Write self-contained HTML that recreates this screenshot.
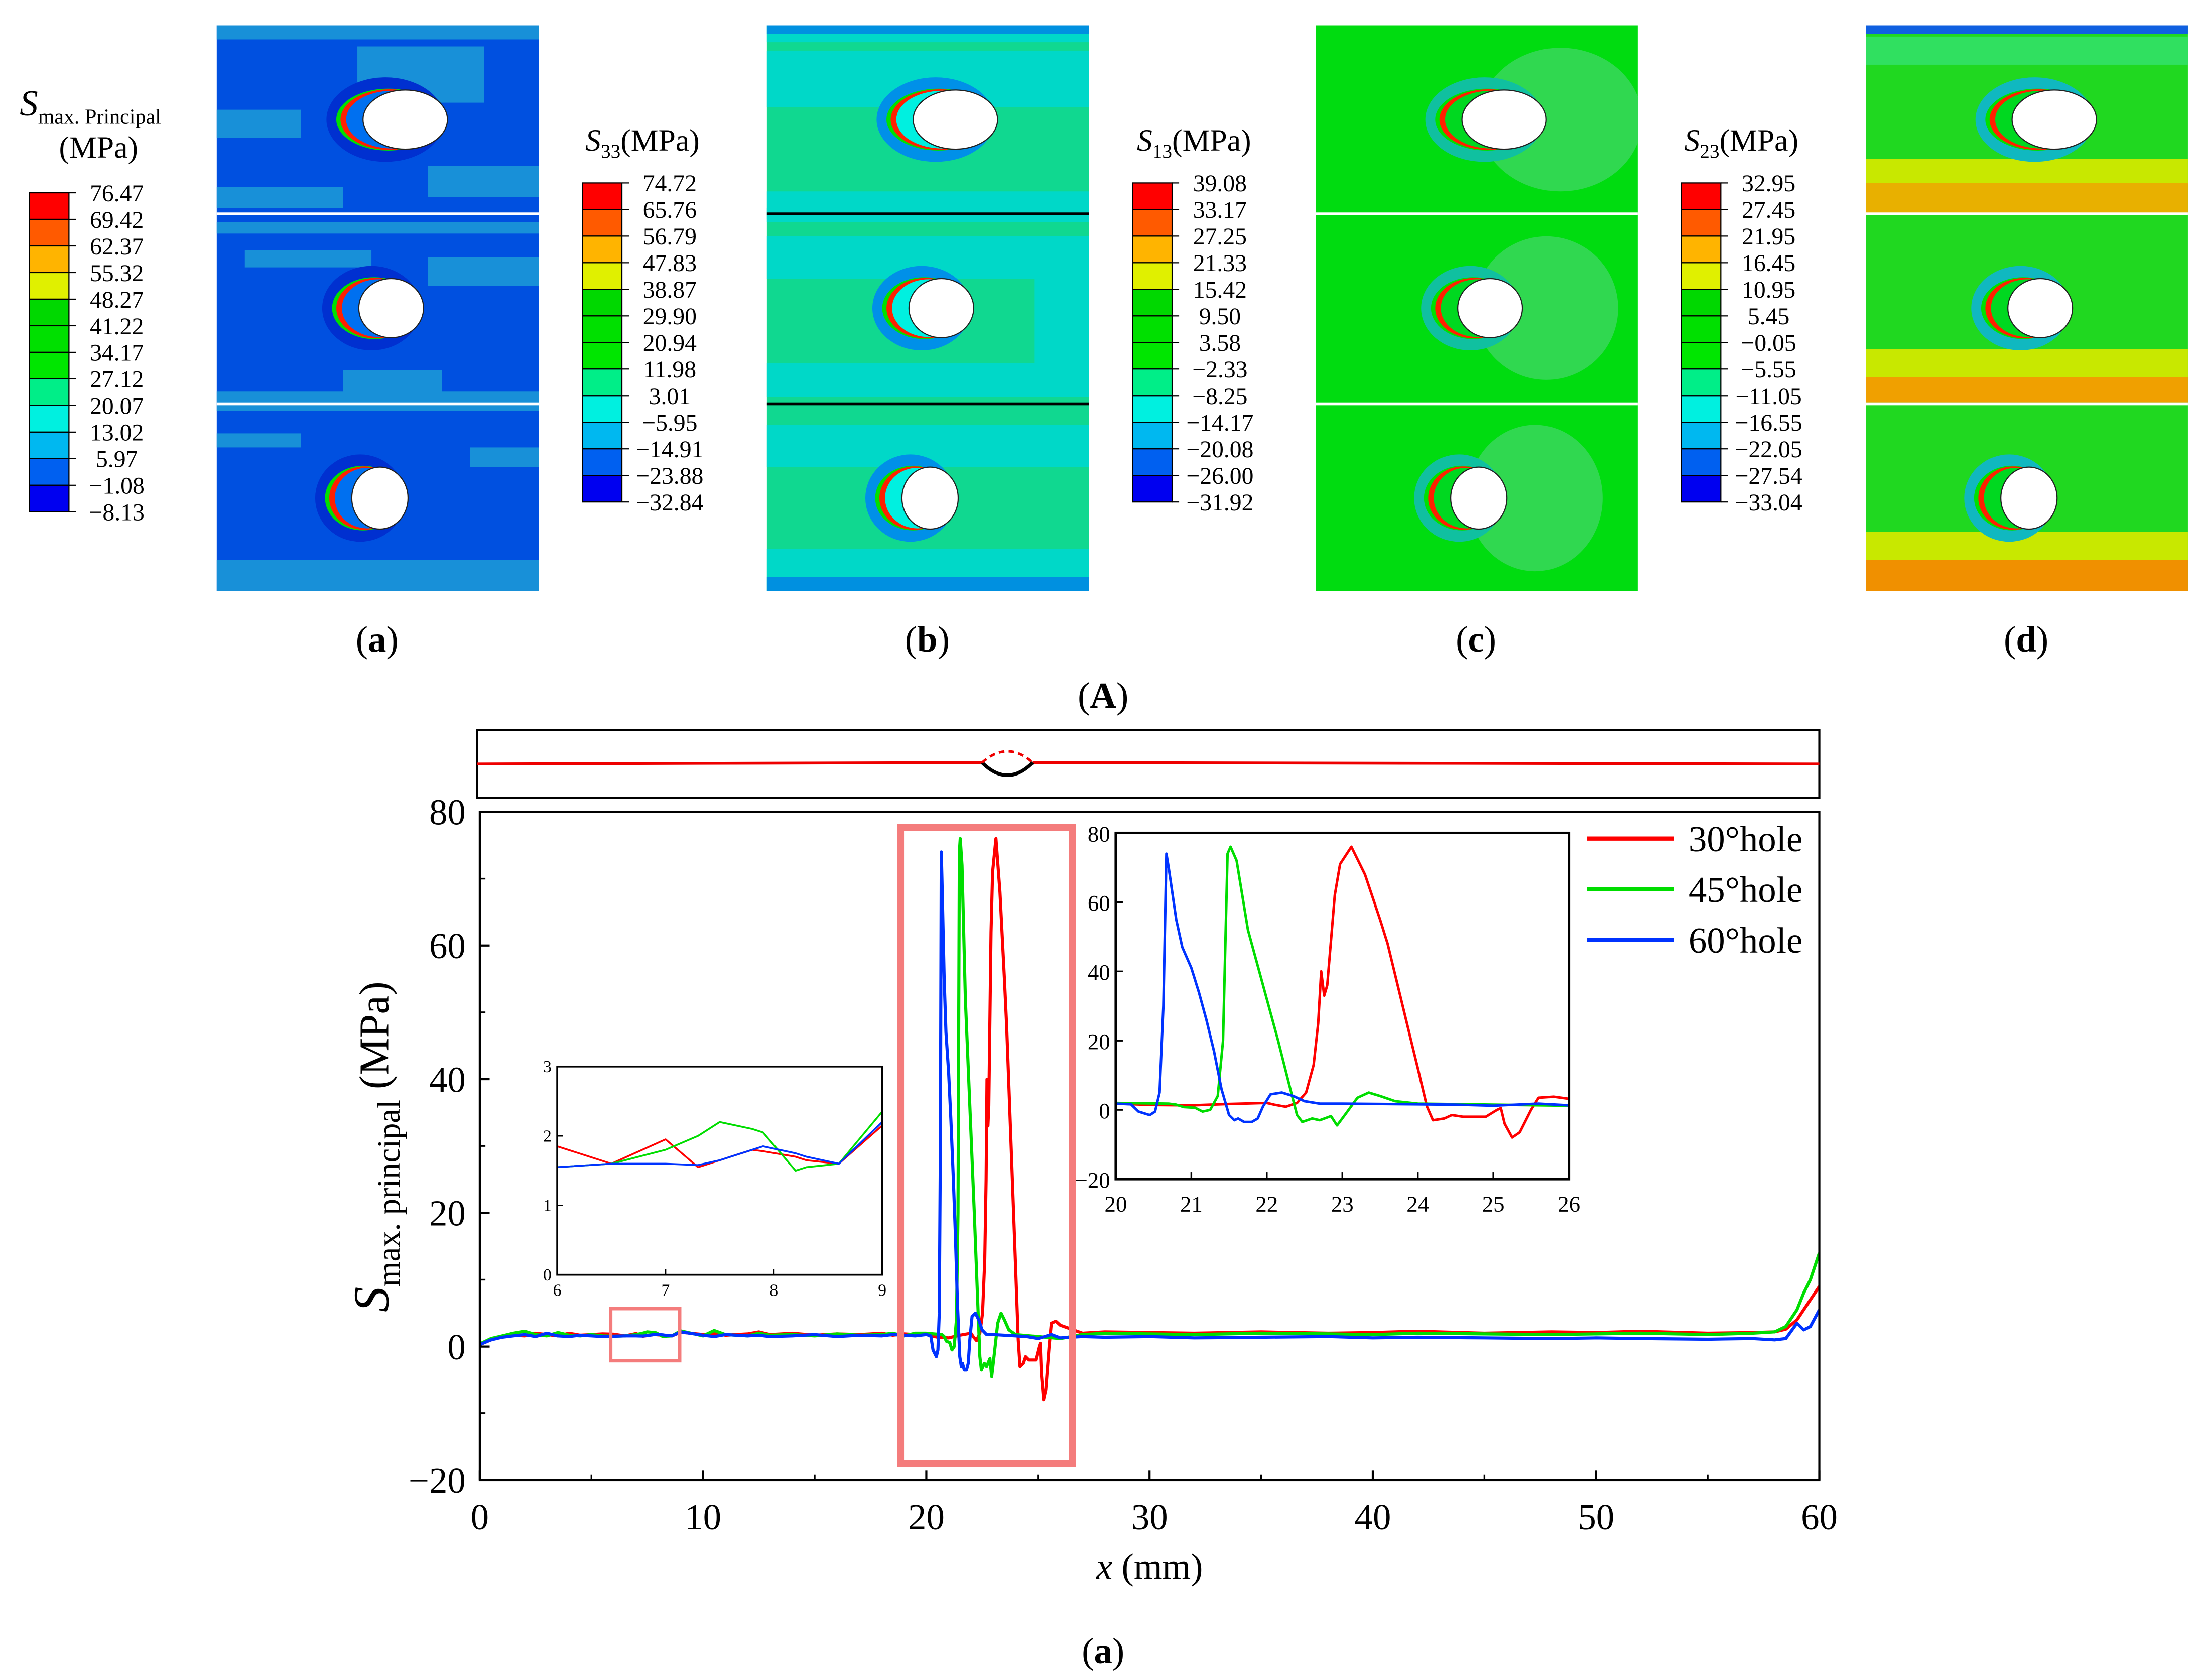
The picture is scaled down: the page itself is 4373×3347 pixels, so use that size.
<!DOCTYPE html>
<html><head><meta charset="utf-8"><style>
html,body{margin:0;padding:0;background:#fff;}
svg{display:block;font-family:"Liberation Serif","DejaVu Serif",serif;}
text{font-family:"Liberation Serif","DejaVu Serif",serif;}
</style></head><body>
<svg id="fig" width="4373" height="3347" viewBox="0 0 1560 1194" xmlns="http://www.w3.org/2000/svg" font-family="'Liberation Serif', 'DejaVu Serif', serif">
<defs>
<clipPath id="cA"><rect x="0" y="0" width="229" height="402"/></clipPath>
<clipPath id="cM"><rect x="341" y="577" width="952" height="475"/></clipPath>
</defs>
<g id="topG"></g>
<text x="784" y="503" font-size="26" text-anchor="middle">(<tspan font-weight="bold">A</tspan>)</text>
<g id="chart"></g>
</svg>
<script>
const NS="http://www.w3.org/2000/svg";
function mk(tag,attrs,parent){const e=document.createElementNS(NS,tag);for(const k in attrs)e.setAttribute(k,attrs[k]);parent.appendChild(e);return e;}
function tx(parent,x,y,s,size,anchor,extra){const t=mk('text',Object.assign({x:x,y:y,'font-size':size,'text-anchor':anchor||'start'},extra||{}),parent);t.textContent=s;return t;}

const legendA=["76.47","69.42","62.37","55.32","48.27","41.22","34.17","27.12","20.07","13.02","5.97","\u22121.08","\u22128.13"];
const legendB=["74.72","65.76","56.79","47.83","38.87","29.90","20.94","11.98","3.01","\u22125.95","\u221214.91","\u221223.88","\u221232.84"];
const legendC=["39.08","33.17","27.25","21.33","15.42","9.50","3.58","\u22122.33","\u22128.25","\u221214.17","\u221220.08","\u221226.00","\u221231.92"];
const legendD=["32.95","27.45","21.95","16.45","10.95","5.45","\u22120.05","\u22125.55","\u221211.05","\u221216.55","\u221222.05","\u221227.54","\u221233.04"];
const bandColors=["#ff0000","#ff5a00","#ffb400","#e0f000","#00d800","#00e000","#00e600","#00ee88","#00f0e0","#00b8f0","#0060f0","#0000f0"];
const topG=document.getElementById('topG');
const panels=[
 {px:154,cbx:21,cby:137,leg:legendA,lab:"a",bg:"#0050e0",patch:"#1890d8",line:"#ffffff",halo:"#0030d0",inner:"#0070f0"},
 {px:545,cbx:414,cby:130,leg:legendB,lab:"b",bg:"#10d890",patch:"#00d8c8",line:"#000000",halo:"#0090e8",inner:"#00f0e0"},
 {px:935,cbx:805,cby:130,leg:legendC,lab:"c",bg:"#00dc10",patch:"#30d850",line:"#ffffff",halo:"#10c0a0",inner:"#00d820"},
 {px:1326,cbx:1195,cby:130,leg:legendD,lab:"d",bg:"#20d820",patch:"#c8e800",line:"#ffffff",halo:"#10b8c0",inner:"#00d820"}
];
const holes=[[134,67,30,21],[124,201,23,21],[116,336,20,22]];
panels.forEach((p,i)=>{
  const g=mk('g',{transform:`translate(${p.px},18)`},topG);
  
  
  const inner=mk('g',{'clip-path':'url(#cA)'},g);
  mk('rect',{x:0,y:0,width:229,height:402,fill:p.bg},inner);
  if(i===0){
    [[0,0,229,10],[100,15,90,40],[0,60,60,20],[150,100,79,22],[0,115,90,15],[0,140,229,8],[20,160,90,12],[150,165,79,20],[90,245,70,20],[0,260,229,14],[0,290,60,10],[180,300,49,14],[0,380,229,22]].forEach(r=>mk('rect',{x:r[0],y:r[1],width:r[2],height:r[3],fill:p.patch},inner));
  } else if(i===1){
    [[0,0,229,12],[0,18,229,40],[0,118,229,20],[0,130,229,10],[0,150,229,30],[0,240,229,24],[0,284,229,30],[0,372,229,30],[190,180,39,60]].forEach(r=>mk('rect',{x:r[0],y:r[1],width:r[2],height:r[3],fill:p.patch},inner));
    mk('rect',{x:0,y:0,width:229,height:6,fill:"#0090e0"},inner);
    mk('rect',{x:0,y:392,width:229,height:10,fill:"#0090e0"},inner);
  } else if(i===2){
    holes.forEach(h=>mk('ellipse',{cx:h[0]+40,cy:h[1],rx:h[2]+28,ry:h[3]+30,fill:p.patch},inner));
  } else {
    mk('rect',{x:0,y:0,width:229,height:6,fill:"#1060e0"},inner);
    [[0,95,229,18,"#c8e800"],[0,112,229,22,"#e8b000"],[0,230,229,20,"#c8e800"],[0,250,229,18,"#f0a000"],[0,360,229,20,"#c8e800"],[0,380,229,22,"#f09000"],[0,8,229,20,"#30e060"]].forEach(r=>mk('rect',{x:r[0],y:r[1],width:r[2],height:r[3],fill:r[4]},inner));
  }
  holes.forEach(h=>{
    mk('ellipse',{cx:h[0]-14,cy:h[1],rx:h[2]+12,ry:h[3]+9,fill:p.halo},inner);
    mk('ellipse',{cx:h[0]-12,cy:h[1],rx:h[2]+7,ry:h[3]+1,fill:"#00e000"},inner);
    mk('ellipse',{cx:h[0]-11,cy:h[1],rx:h[2]+5,ry:h[3]+0.5,fill:"#ff2000"},inner);
    mk('ellipse',{cx:h[0]-9,cy:h[1],rx:h[2]+3,ry:h[3]-0.5,fill:p.inner},inner);
    mk('ellipse',{cx:h[0],cy:h[1],rx:h[2],ry:h[3],fill:"#ffffff",stroke:"#222",'stroke-width':0.8},inner);
  });
  mk('rect',{x:0,y:133,width:229,height:2,fill:p.line},inner);
  mk('rect',{x:0,y:268,width:229,height:2,fill:p.line},inner);
  const cb=mk('g',{},topG);
  
  
  const bh=18.9;
  bandColors.forEach((c,k)=>{mk('rect',{x:p.cbx,y:p.cby+k*bh,width:28,height:bh,fill:c,stroke:'#000','stroke-width':0.8},cb);});
  p.leg.forEach((s,k)=>{mk('line',{x1:p.cbx+28,y1:p.cby+k*bh,x2:p.cbx+33,y2:p.cby+k*bh,stroke:'#000','stroke-width':0.8},cb);tx(cb,p.cbx+62,p.cby+k*bh+6,s,17,'middle');});
  const lb=mk('text',{x:p.px+114,y:463,'font-size':26,'text-anchor':'middle'},topG);
  
  
  lb.appendChild(document.createTextNode('('));
  const b=mk('tspan',{'font-weight':'bold'},lb);b.textContent=p.lab;
  lb.appendChild(document.createTextNode(')'));
});
function richText(parent,x,y,size,anchor,parts,extra){
  const t=mk('text',Object.assign({x:x,y:y,'font-size':size,'text-anchor':anchor},extra||{}),parent);
  parts.forEach(p=>{const s=mk('tspan',p[1]||{},t);s.textContent=p[0];});
  return t;
}
(function(){
 const t1=richText(topG,14,82,24,'start',[["S",{'font-style':'italic','font-size':26}],["max. Principal",{'font-size':15,dy:6}]]);
 
 const t1b=tx(topG,70,112,'(MPa)',22,'middle');
 [[416,"33","title-b"],[808,"13","title-c"],[1197,"23","title-d"]].forEach(a=>{
  const t=richText(topG,a[0],107,22,'start',[["S",{'font-style':'italic'}],[a[1],{'font-size':14,dy:5}],["(MPa)",{dy:-5}]]);
  
 });
})();

const xTicks=[0,10,20,30,40,50,60];
const yTicks=[-20,0,20,40,60,80];
const inset1XTicks=[20,21,22,23,24,25,26];
const inset1YTicks=[-20,0,20,40,60,80];
const inset2XTicks=[6,7,8,9];
const inset2YTicks=[0,1,2,3];
const seriesNames=["30\u00b0hole","45\u00b0hole","60\u00b0hole"];
const preX=[0,0.5,1,1.5,2,2.5,3,3.5,4,4.5,5,5.5];
const redPreY=[0.3,1.0,1.5,1.7,1.6,2.0,1.8,1.6,2.0,1.7,1.8,1.9];
const greenPreY=[0.4,1.2,1.6,2.0,2.3,1.8,1.6,2.1,1.7,1.6,1.8,1.6];
const bluePreY=[0.3,1.0,1.4,1.6,1.8,1.5,2.0,1.6,1.5,1.7,1.6,1.5];
const zoomAX=[6,6.5,7,7.3,7.5,7.8,7.9,8.2,8.3,8.6,9];
const redZoomAY=[1.85,1.6,1.95,1.55,1.65,1.8,1.78,1.7,1.65,1.6,2.15];
const greenZoomAY=[1.55,1.6,1.8,2.0,2.2,2.1,2.05,1.5,1.55,1.6,2.35];
const blueZoomAY=[1.55,1.6,1.6,1.58,1.65,1.8,1.85,1.75,1.7,1.6,2.2];
const midX=[10,10.5,11,12,12.5,13,14,15,16,17,18,18.5,19,19.5];
const redMidY=[1.8,2.0,1.7,1.9,2.2,1.8,2.0,1.7,1.9,1.8,2.0,1.7,1.9,1.8];
const greenMidY=[1.6,2.4,1.8,1.6,2.0,1.7,1.8,1.6,1.9,1.7,1.8,2.0,1.6,2.0];
const blueMidY=[1.7,1.5,1.8,1.6,1.7,1.5,1.6,1.8,1.5,1.7,1.6,1.8,1.7,1.6];
const redZoomBX=[20,20.5,21,21.5,22,22.1,22.25,22.4,22.52,22.62,22.68,22.72,22.76,22.8,22.9,22.97,23.12,23.3,23.5,23.6,23.8,24.0,24.12,24.2,24.35,24.45,24.6,24.9,25.05,25.1,25.15,25.25,25.35,25.5,25.6,25.8,26];
const redZoomBY=[1.8,1.4,1.3,1.7,2,1.5,0.9,2,5,13,25,40,33,36,62,71,76,68,55,48,30,12,1,-3,-2.5,-1.5,-2,-2,0,0.5,-4,-8,-6.5,0,3.5,3.8,3.2];
const greenZoomBX=[20,20.7,20.8,20.9,21.05,21.15,21.25,21.35,21.42,21.48,21.52,21.6,21.75,21.9,22.0,22.15,22.3,22.4,22.47,22.6,22.7,22.85,22.93,23.05,23.2,23.35,23.5,23.7,24,25,26];
const greenZoomBY=[2,1.8,1.5,0.8,0.6,-0.5,0,4,20,74,76,72,52,40,32,20,7,-1.5,-3.5,-2.5,-3,-1.8,-4.5,-1,3.5,5,4,2.5,1.8,1.5,1.2];
const blueZoomBX=[20,20.2,20.3,20.45,20.52,20.58,20.63,20.67,20.7,20.8,20.88,21.0,21.1,21.2,21.3,21.4,21.5,21.57,21.62,21.7,21.8,21.88,21.95,22.05,22.2,22.35,22.5,22.7,23,24,24.5,25,25.6,26];
const blueZoomBY=[1.8,1.6,-0.5,-1.5,-0.5,5,30,74,70,55,47,41,34,26,17,6,-1.5,-3,-2.5,-3.5,-3.5,-2.5,1,4.5,5,4,2.5,1.8,1.8,1.6,1.5,1.2,1.8,1.3];
const postX=[27,28,30,32,35,38,40,42,45,48,50,52,55,57,58,58.5,59,59.3,59.6,60];
const redPostY=[2.0,2.2,2.1,2.0,2.2,2.0,2.1,2.3,2.0,2.2,2.1,2.3,2.0,2.1,2.2,2.6,4.0,5.5,7.0,9.0];
const greenPostY=[1.8,2.0,1.9,1.8,2.0,1.9,1.8,2.0,1.9,1.8,1.9,2.0,1.8,2.0,2.2,3.0,5.5,8.0,10.0,14.0];
const bluePostY=[1.5,1.4,1.5,1.3,1.4,1.5,1.3,1.4,1.3,1.2,1.3,1.2,1.1,1.2,1.0,1.2,3.5,2.5,3.0,5.5];

const C=document.getElementById('chart');
const colors=["#ff0000","#00dd00","#0033ff"];
function concat(){let x=[],y=[];for(let i=0;i<arguments.length;i+=2){x=x.concat(arguments[i]);y=y.concat(arguments[i+1]);}return [x,y];}
const mainSeries=[
 concat(preX,redPreY,zoomAX,redZoomAY,midX,redMidY,redZoomBX,redZoomBY,postX,redPostY),
 concat(preX,greenPreY,zoomAX,greenZoomAY,midX,greenMidY,greenZoomBX,greenZoomBY,postX,greenPostY),
 concat(preX,bluePreY,zoomAX,blueZoomAY,midX,blueMidY,blueZoomBX,blueZoomBY,postX,bluePostY)
];

(function(){
 const g=mk('g',{},C);
 mk('rect',{x:339,y:519,width:954,height:48,fill:'none',stroke:'#000','stroke-width':1.5},g);
 mk('line',{x1:339,y1:543,x2:698,y2:542,stroke:'#e00','stroke-width':2},g);
 mk('line',{x1:734,y1:542,x2:1293,y2:543,stroke:'#e00','stroke-width':2},g);
 mk('path',{d:'M698,542 Q716,560 734,542',fill:'none',stroke:'#000','stroke-width':2.5},g);
 mk('path',{d:'M698,542 Q716,526 734,542',fill:'none',stroke:'#e00','stroke-width':1.8,'stroke-dasharray':'4,3'},g);
})();

function axisMaker(x0,x1,y0,y1,px0,px1,py0,py1){
 return {X:v=>px0+(v-x0)/(x1-x0)*(px1-px0),Y:v=>py0+(v-y0)/(y1-y0)*(py1-py0)};
}
function plotLines(g,series,ax,width,clip){
 series.forEach((s,k)=>{
  let d='';s[0].forEach((xv,i)=>{d+=(i?'L':'M')+ax.X(xv).toFixed(2)+','+ax.Y(s[1][i]).toFixed(2);});
  const p=mk('path',{d:d,fill:'none',stroke:colors[k],'stroke-width':width,'stroke-linejoin':'round'},g);
  if(clip)p.setAttribute('clip-path',clip);
  
  
 });
}

const M=axisMaker(0,60,-20,80,341,1293,1052,577);
(function(){
 const g=mk('g',{},C);
 plotLines(g,mainSeries,M,2.2,'url(#cM)');
 mk('rect',{x:341,y:577,width:952,height:475,fill:'none',stroke:'#000','stroke-width':1.5},g);
 const xa=mk('g',{},g);
 xTicks.forEach(v=>{mk('line',{x1:M.X(v),y1:1052,x2:M.X(v),y2:1045,stroke:'#000','stroke-width':1.5},xa);tx(xa,M.X(v),1087,String(v),26,'middle');});
 for(let v=5;v<60;v+=10)mk('line',{x1:M.X(v),y1:1052,x2:M.X(v),y2:1048,stroke:'#000','stroke-width':1.2},xa);
 const ya=mk('g',{},g);
 yTicks.forEach(v=>{mk('line',{x1:341,y1:M.Y(v),x2:348,y2:M.Y(v),stroke:'#000','stroke-width':1.5},ya);tx(ya,331,M.Y(v)+9,v<0?'\u2212'+(-v):String(v),26,'end');});
 for(let v=-10;v<80;v+=20)mk('line',{x1:341,y1:M.Y(v),x2:345,y2:M.Y(v),stroke:'#000','stroke-width':1.2},ya);
 const xt=richText(g,817,1122,26,'middle',[["x",{'font-style':'italic'}],[" (mm)",{}]]);
 
 const yt=richText(g,0,0,30,'middle',[["S",{'font-style':'italic','font-size':36}],["max. principal",{'font-size':23,dy:8}],[" (MPa)",{dy:-8}]],{transform:'translate(276,815) rotate(-90)'});
 
 const fl=richText(g,784,1182,26,'middle',[["(",{}],["a",{'font-weight':'bold'}],[")",{}]]);
 
 const lg=mk('g',{},g);
 seriesNames.forEach((n,k)=>{const yy=596+k*36;
  const e=mk('g',{},lg);
  mk('line',{x1:1128,y1:yy,x2:1190,y2:yy,stroke:colors[k],'stroke-width':3},e);tx(e,1200,yy+9,n,26,'start');});
 const zb1=mk('rect',{x:434,y:930,width:49,height:37,fill:'none',stroke:'#f47c7c','stroke-width':2.5},g);
 
 const zb2=mk('rect',{x:640,y:588,width:122,height:452,fill:'none',stroke:'#f47c7c','stroke-width':5},g);
 
})();

(function(){
 const A=axisMaker(20,26,-20,80,793,1115,838,592);
 const g=mk('g',{},C);
 mk('rect',{x:793,y:592,width:322,height:246,fill:'#fff'},g);
 plotLines(g,[[redZoomBX,redZoomBY],[greenZoomBX,greenZoomBY],[blueZoomBX,blueZoomBY]],A,1.8);
 mk('rect',{x:793,y:592,width:322,height:246,fill:'none',stroke:'#000','stroke-width':1.8},g);
 inset1XTicks.forEach(v=>{mk('line',{x1:A.X(v),y1:838,x2:A.X(v),y2:833,stroke:'#000','stroke-width':1.2},g);tx(g,A.X(v),861,String(v),16,'middle');});
 inset1YTicks.forEach(v=>{mk('line',{x1:793,y1:A.Y(v),x2:798,y2:A.Y(v),stroke:'#000','stroke-width':1.2},g);tx(g,789,A.Y(v)+6,v<0?'\u2212'+(-v):String(v),16,'end');});
})();

(function(){
 const A=axisMaker(6,9,0,3,396,627,906,758);
 const g=mk('g',{},C);
 mk('rect',{x:396,y:758,width:231,height:148,fill:'#fff'},g);
 plotLines(g,[[zoomAX,redZoomAY],[zoomAX,greenZoomAY],[zoomAX,blueZoomAY]],A,1.3);
 mk('rect',{x:396,y:758,width:231,height:148,fill:'none',stroke:'#000','stroke-width':1.3},g);
 inset2XTicks.forEach(v=>{mk('line',{x1:A.X(v),y1:906,x2:A.X(v),y2:902,stroke:'#000','stroke-width':1},g);tx(g,A.X(v),921,String(v),12,'middle');});
 inset2YTicks.forEach(v=>{mk('line',{x1:396,y1:A.Y(v),x2:400,y2:A.Y(v),stroke:'#000','stroke-width':1},g);tx(g,392,A.Y(v)+4,String(v),12,'end');});
})();
</script>
</body></html>
